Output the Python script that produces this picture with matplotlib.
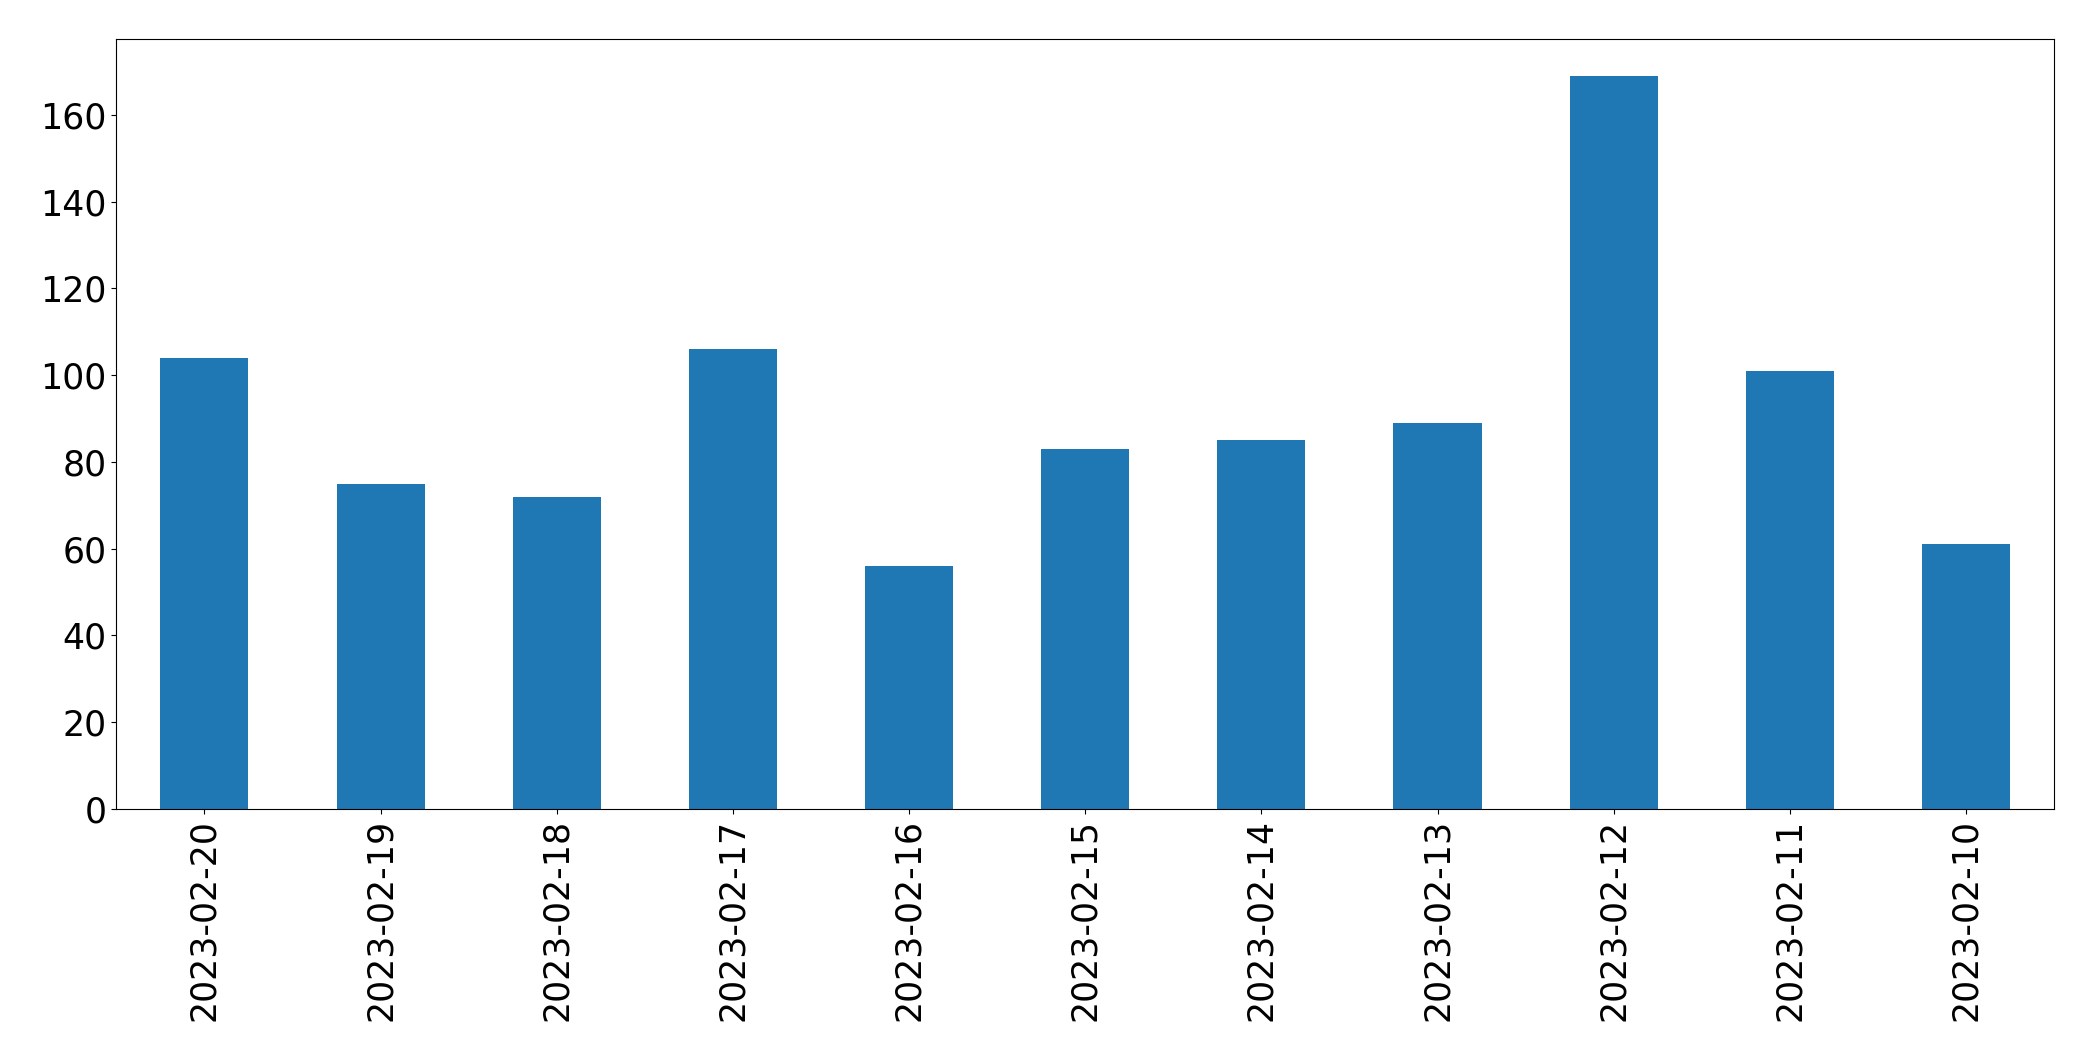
import matplotlib
matplotlib.use("Agg")
import matplotlib.pyplot as plt

dates = [
    "2023-02-20", "2023-02-19", "2023-02-18", "2023-02-17", "2023-02-16",
    "2023-02-15", "2023-02-14", "2023-02-13", "2023-02-12", "2023-02-11",
    "2023-02-10",
]
counts = [104, 75, 72, 106, 56, 83, 85, 89, 169, 101, 61]

fig = plt.figure(figsize=(20.93, 10.61), dpi=100)
ax = fig.add_axes([0.0556, 0.2375, 0.9258, 0.7255])
x = range(len(dates))
ax.bar(x, counts, width=0.5, color="#1f77b4")
ax.set_xlim(-0.5, len(dates) - 0.5)
ax.set_xticks(list(x))
ax.set_xticklabels(dates, rotation=90)
ax.tick_params(axis="both", labelsize=25)

fig.savefig("out.png", dpi=100)
